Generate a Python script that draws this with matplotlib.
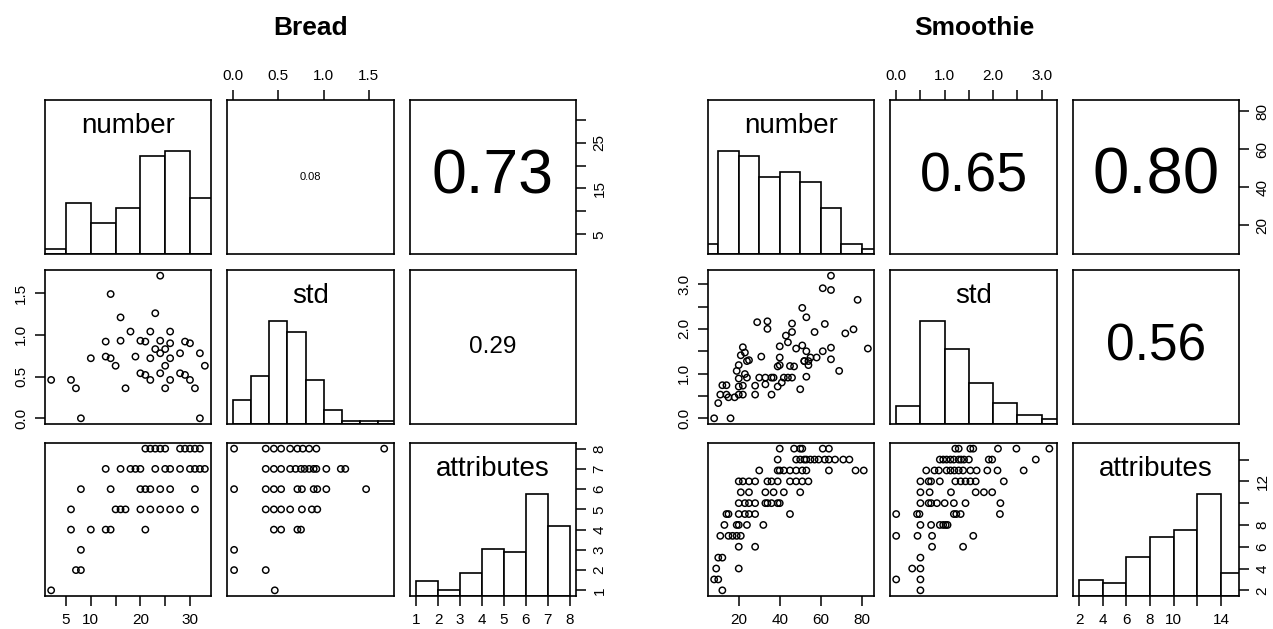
import matplotlib
matplotlib.use("Agg")
import matplotlib.pyplot as plt
import numpy as np

plt.rcParams['font.family'] = ['Liberation Sans', 'DejaVu Sans']

# ---------------- DATA ----------------
variables = ["number", "std", "attributes"]

# Bread
bread_title = "Bread"
bread_num_std_x = [2, 6, 7, 8, 10, 13, 13, 14, 14, 15, 16, 16, 17, 18, 19, 20, 20, 21, 21, 22, 22, 22,
                   23, 23, 24, 24, 24, 24, 25, 25, 25, 26, 26, 26, 26, 28, 28, 29, 29, 30, 30, 31, 32, 32, 33]
bread_num_std_y = [0.46, 0.46, 0.36, 0.00, 0.72, 0.92, 0.74, 0.72, 1.49, 0.63, 1.21, 0.93, 0.36, 1.04, 0.74,
                   0.93, 0.54, 0.92, 0.52, 1.04, 0.72, 0.46, 1.26, 0.83, 1.71, 0.93, 0.78, 0.54, 0.83, 0.63,
                   0.36, 1.04, 0.90, 0.72, 0.46, 0.78, 0.54, 0.92, 0.52, 0.90, 0.46, 0.36, 0.78, 0.00, 0.63]
bread_num_attr_x = [21, 22, 23, 24, 25, 28, 29, 30, 31, 32,
                    13, 16, 18, 19, 20, 23, 25, 26, 28, 30, 31, 32, 33,
                    8, 14, 20, 21, 22, 24, 26, 31,
                    6, 15, 16, 17, 20, 22, 24, 26, 28, 31,
                    6, 10, 13, 14, 21,
                    8,
                    7, 8,
                    2]
bread_num_attr_y = [8, 8, 8, 8, 8, 8, 8, 8, 8, 8,
                    7, 7, 7, 7, 7, 7, 7, 7, 7, 7, 7, 7, 7,
                    6, 6, 6, 6, 6, 6, 6, 6,
                    5, 5, 5, 5, 5, 5, 5, 5, 5, 5,
                    4, 4, 4, 4, 4,
                    3,
                    2, 2,
                    1]
bread_std_attr_x = [0.01, 0.36, 0.45, 0.53, 0.63, 0.71, 0.77, 0.84, 0.92, 1.67,
                    0.36, 0.45, 0.53, 0.63, 0.69, 0.75, 0.79, 0.84, 0.89, 0.92, 1.03, 1.19, 1.24,
                    0.01, 0.36, 0.45, 0.53, 0.71, 0.76, 0.89, 0.93, 1.03, 1.47,
                    0.36, 0.45, 0.53, 0.63, 0.76, 0.87, 0.93,
                    0.45, 0.53, 0.71, 0.75,
                    0.01,
                    0.01, 0.36,
                    0.46]
bread_std_attr_y = [8, 8, 8, 8, 8, 8, 8, 8, 8, 8,
                    7, 7, 7, 7, 7, 7, 7, 7, 7, 7, 7, 7, 7,
                    6, 6, 6, 6, 6, 6, 6, 6, 6, 6,
                    5, 5, 5, 5, 5, 5, 5,
                    4, 4, 4, 4,
                    3,
                    2, 2,
                    1]
bread_hist_number_edges = [0, 5, 10, 15, 20, 25, 30, 35]
bread_hist_number_counts = [1, 10, 6, 9, 19, 20, 11]
bread_hist_std_edges = [0.0, 0.2, 0.4, 0.6, 0.8, 1.0, 1.2, 1.4, 1.6, 1.8]
bread_hist_std_counts = [7, 14, 30, 27, 13, 4, 1, 1, 1]
bread_hist_attr_edges = [1, 2, 3, 4, 5, 6, 7, 8]
bread_hist_attr_counts = [5, 2, 8, 16, 15, 35, 24]
bread_cor_num_std = "0.08"
bread_cor_num_attr = "0.73"
bread_cor_std_attr = "0.29"
bread_number_ticks = [5, 10, 15, 20, 25, 30]
bread_number_labels_bottom = ["5", "10", "", "20", "", "30"]
bread_number_labels_right = ["5", "", "15", "", "25", ""]
bread_std_ticks = [0.0, 0.5, 1.0, 1.5]
bread_std_labels = ["0.0", "0.5", "1.0", "1.5"]
bread_attr_ticks = [1, 2, 3, 4, 5, 6, 7, 8]
bread_attr_labels_bottom = ["1", "2", "3", "4", "5", "6", "7", "8"]
bread_attr_labels_right = ["1", "2", "3", "4", "5", "6", "7", "8"]

# Smoothie
smoothie_title = "Smoothie"
smoothie_num_std_x = [8, 16, 10, 11, 14, 12, 14, 15, 18, 20, 22, 20, 20, 19, 20, 21, 22, 23, 24, 25, 23, 24,
                      22, 28, 28, 29, 34, 34, 31, 30, 33, 36, 33, 37, 36, 39, 41, 42, 40, 40, 39, 40, 43, 44,
                      46, 46, 45, 47, 44, 46, 48, 50, 51, 52, 51, 53, 53, 53, 54, 54, 55, 52, 57, 58, 61, 61,
                      62, 65, 65, 65, 65, 69, 72, 76, 78, 83]
smoothie_num_std_y = [0.00, 0.00, 0.34, 0.53, 0.53, 0.74, 0.74, 0.47, 0.47, 0.53, 0.53, 0.71, 0.89, 1.06,
                      1.19, 1.41, 1.59, 1.47, 1.28, 1.30, 0.99, 0.91, 0.73, 0.73, 0.53, 2.15, 2.17, 2.00,
                      1.38, 0.91, 0.91, 0.91, 0.76, 0.91, 0.53, 0.71, 0.80, 0.91, 1.36, 1.61, 1.16, 1.19,
                      1.85, 1.70, 1.93, 2.12, 1.17, 1.16, 0.91, 0.91, 1.56, 0.65, 1.63, 1.28, 2.47, 2.26,
                      1.50, 0.93, 1.19, 1.28, 1.36, 1.28, 1.93, 1.36, 1.50, 2.91, 2.11, 2.87, 1.32, 1.58,
                      3.19, 1.06, 1.90, 1.99, 2.65, 1.56]
smoothie_num_attr_x = [40, 47, 50, 51, 61, 64,
                       39, 48, 50, 52, 53, 55, 57, 59, 62, 64, 67, 71, 74,
                       30, 39, 40, 42, 45, 48, 51, 53, 64, 77, 81,
                       20, 22, 25, 28, 34, 36, 39, 45, 48, 51, 54,
                       21, 25, 33, 37, 42, 50,
                       20, 23, 25, 28, 33, 34, 36, 39, 40,
                       14, 15, 20, 23, 25, 28, 45,
                       13, 19, 20, 24, 32,
                       11, 15, 17, 19, 21,
                       20, 28,
                       10, 12,
                       9, 20,
                       8, 10,
                       12]
smoothie_num_attr_y = [15, 15, 15, 15, 15, 15,
                       14, 14, 14, 14, 14, 14, 14, 14, 14, 14, 14, 14, 14,
                       13, 13, 13, 13, 13, 13, 13, 13, 13, 13, 13,
                       12, 12, 12, 12, 12, 12, 12, 12, 12, 12, 12,
                       11, 11, 11, 11, 11, 11,
                       10, 10, 10, 10, 10, 10, 10, 10, 10,
                       9, 9, 9, 9, 9, 9, 9,
                       8, 8, 8, 8, 8,
                       7, 7, 7, 7, 7,
                       6, 6,
                       5, 5,
                       4, 4,
                       3, 3,
                       2]
smoothie_std_attr_x = [1.22, 1.29, 1.53, 1.59, 2.10, 2.48, 3.16,
                       0.90, 0.97, 1.04, 1.12, 1.19, 1.29, 1.34, 1.40, 1.50, 1.91, 1.98, 2.88,
                       0.62, 0.79, 0.88, 1.04, 1.12, 1.20, 1.29, 1.38, 1.53, 1.66, 1.88, 2.09, 2.63,
                       0.50, 0.67, 0.72, 0.90, 1.22, 1.33, 1.43, 1.53, 1.64, 2.22,
                       0.50, 0.69, 1.13, 1.64, 1.81, 1.98,
                       0.50, 0.67, 0.72, 0.84, 1.00, 1.19, 1.43, 2.15,
                       0.00, 0.43, 0.48, 1.19, 1.24, 1.33, 2.14,
                       0.50, 0.72, 0.90, 0.97, 1.02, 1.06,
                       0.00, 0.44, 0.74, 1.59,
                       0.74, 1.38,
                       0.50,
                       0.33, 0.50,
                       0.00, 0.50,
                       0.50]
smoothie_std_attr_y = [15, 15, 15, 15, 15, 15, 15,
                       14, 14, 14, 14, 14, 14, 14, 14, 14, 14, 14, 14,
                       13, 13, 13, 13, 13, 13, 13, 13, 13, 13, 13, 13, 13,
                       12, 12, 12, 12, 12, 12, 12, 12, 12, 12,
                       11, 11, 11, 11, 11, 11,
                       10, 10, 10, 10, 10, 10, 10, 10,
                       9, 9, 9, 9, 9, 9, 9,
                       8, 8, 8, 8, 8, 8,
                       7, 7, 7, 7,
                       6, 6,
                       5,
                       4, 4,
                       3, 3,
                       2]
smoothie_hist_number_edges = [0, 10, 20, 30, 40, 50, 60, 70, 80, 90]
smoothie_hist_number_counts = [2, 20, 19, 15, 16, 14, 9, 2, 1]
smoothie_hist_std_edges = [0.0, 0.5, 1.0, 1.5, 2.0, 2.5, 3.0, 3.5]
smoothie_hist_std_counts = [8, 45, 33, 18, 9, 4, 2]
smoothie_hist_attr_edges = [2, 4, 6, 8, 10, 12, 14, 16]
smoothie_hist_attr_counts = [5, 4, 12, 18, 20, 31, 7]
smoothie_cor_num_std = "0.65"
smoothie_cor_num_attr = "0.80"
smoothie_cor_std_attr = "0.56"
smoothie_number_ticks = [20, 40, 60, 80]
smoothie_number_labels_bottom = ["20", "40", "60", "80"]
smoothie_number_labels_right = ["20", "40", "60", "80"]
smoothie_std_ticks = [0.0, 0.5, 1.0, 1.5, 2.0, 2.5, 3.0]
smoothie_std_labels = ["0.0", "", "1.0", "", "2.0", "", "3.0"]
smoothie_attr_ticks = [2, 4, 6, 8, 10, 12, 14]
smoothie_attr_labels_bottom = ["2", "4", "6", "8", "10", "", "14"]
smoothie_attr_labels_right = ["2", "4", "6", "8", "", "12", ""]

# ---------------- LAYOUT / STYLE ----------------
W, H = 1273, 629
fig = plt.figure(figsize=(W / 100, H / 100), dpi=100)
fig.patch.set_facecolor("white")

ROWS = [(100, 254), (270, 424), (443, 596)]
BREAD_COLS = [(45, 211), (227, 394), (410, 576)]
SMOOTHIE_COLS = [(708, 874), (890, 1057), (1073, 1239)]
BREAD_COR_SIZES = [8, 45, 17.5]
SMOOTHIE_COR_SIZES = [40, 47, 37]
TICK_FS = 11
LABEL_FS = 20
LW = 1.2


def add_ax(cols, r, c):
    x0, x1 = cols[c]
    y0, y1 = ROWS[r]
    ax = fig.add_axes([x0 / W, 1 - y1 / H, (x1 - x0) / W, (y1 - y0) / H])
    ax.set_xticks([])
    ax.set_yticks([])
    for s in ax.spines.values():
        s.set_linewidth(LW)
        s.set_color("black")
        s.set_zorder(5)
    ax.tick_params(length=7, width=1.1, pad=5, labelsize=TICK_FS, colors="black")
    return ax


def lim(*arrays):
    vals = np.concatenate([np.asarray(a, float) for a in arrays])
    lo, hi = vals.min(), vals.max()
    pad = 0.04 * (hi - lo)
    return lo - pad, hi + pad


def draw_block(cols, title, title_x, d, cor_sizes):
    num_lim = lim(d["ns_x"], d["na_x"])
    std_lim = lim(d["ns_y"], d["sa_x"])
    attr_lim = lim(d["na_y"], d["sa_y"])
    lims = [num_lim, std_lim, attr_lim]
    hists = [d["h_num"], d["h_std"], d["h_attr"]]
    axes = {}
    for r in range(3):
        for c in range(3):
            ax = add_ax(cols, r, c)
            ax.set_xlim(*lims[c])
            if r == c:
                ax.set_ylim(0, 1.5)
                edges, counts = hists[r]
                edges = np.asarray(edges, float)
                counts = np.asarray(counts, float)
                ax.bar(edges[:-1], counts / counts.max(), width=np.diff(edges), align="edge",
                       facecolor="white", edgecolor="black", linewidth=LW, zorder=2)
                ax.text(0.5, 0.833, variables[r], transform=ax.transAxes, ha="center",
                        va="center", fontsize=LABEL_FS, color="black", zorder=6)
            else:
                ax.set_ylim(*lims[r])
            axes[(r, c)] = ax

    # scatter panels
    sc = dict(s=21, facecolors="none", edgecolors="black", linewidths=1.05, zorder=3, clip_on=True)
    axes[(1, 0)].scatter(d["ns_x"], d["ns_y"], **sc)
    axes[(2, 0)].scatter(d["na_x"], d["na_y"], **sc)
    axes[(2, 1)].scatter(d["sa_x"], d["sa_y"], **sc)

    # correlation panels
    for (r, c), txt, fs in zip([(0, 1), (0, 2), (1, 2)], d["cors"], cor_sizes):
        axes[(r, c)].text(0.5, 0.5, txt, transform=axes[(r, c)].transAxes, ha="center",
                          va="center", fontsize=fs, color="black")

    # bottom axes: col 0 (number) and col 2 (attributes)
    ax = axes[(2, 0)]
    ax.set_xticks(d["num_ticks"])
    ax.set_xticklabels(d["num_lab_b"])
    ax = axes[(2, 2)]
    ax.set_xticks(d["attr_ticks"])
    ax.set_xticklabels(d["attr_lab_b"])
    # top axis: col 1 (std)
    ax = axes[(0, 1)]
    ax.xaxis.set_ticks_position("top")
    ax.set_xticks(d["std_ticks"])
    ax.set_xticklabels(d["std_lab"])
    # left axis: row 1 (std)
    ax = axes[(1, 0)]
    ax.set_yticks(d["std_ticks"])
    ax.set_yticklabels(d["std_lab"], rotation=90, va="center")
    # right axis: row 0 (number)
    ax = axes[(0, 2)]
    ax.yaxis.set_ticks_position("right")
    ax.set_yticks(d["num_ticks"])
    ax.set_yticklabels(d["num_lab_r"], rotation=90, va="center")
    # right axis: row 2 (attributes), twin over the histogram
    ax = axes[(2, 2)]
    tw = ax.twinx()
    tw.set_ylim(*attr_lim)
    for s in tw.spines.values():
        s.set_visible(False)
    tw.tick_params(length=7, width=1.1, pad=5, labelsize=TICK_FS, colors="black")
    tw.set_yticks(d["attr_ticks"])
    tw.set_yticklabels(d["attr_lab_r"], rotation=90, va="center")

    fig.text(title_x / W, 1 - 28 / H, title, ha="center", va="center", fontsize=19,
             fontweight="bold", color="black")


draw_block(BREAD_COLS, bread_title, 311, dict(
    ns_x=bread_num_std_x, ns_y=bread_num_std_y,
    na_x=bread_num_attr_x, na_y=bread_num_attr_y,
    sa_x=bread_std_attr_x, sa_y=bread_std_attr_y,
    h_num=(bread_hist_number_edges, bread_hist_number_counts),
    h_std=(bread_hist_std_edges, bread_hist_std_counts),
    h_attr=(bread_hist_attr_edges, bread_hist_attr_counts),
    cors=[bread_cor_num_std, bread_cor_num_attr, bread_cor_std_attr],
    num_ticks=bread_number_ticks, num_lab_b=bread_number_labels_bottom,
    num_lab_r=bread_number_labels_right,
    std_ticks=bread_std_ticks, std_lab=bread_std_labels,
    attr_ticks=bread_attr_ticks, attr_lab_b=bread_attr_labels_bottom,
    attr_lab_r=bread_attr_labels_right), BREAD_COR_SIZES)

draw_block(SMOOTHIE_COLS, smoothie_title, 974, dict(
    ns_x=smoothie_num_std_x, ns_y=smoothie_num_std_y,
    na_x=smoothie_num_attr_x, na_y=smoothie_num_attr_y,
    sa_x=smoothie_std_attr_x, sa_y=smoothie_std_attr_y,
    h_num=(smoothie_hist_number_edges, smoothie_hist_number_counts),
    h_std=(smoothie_hist_std_edges, smoothie_hist_std_counts),
    h_attr=(smoothie_hist_attr_edges, smoothie_hist_attr_counts),
    cors=[smoothie_cor_num_std, smoothie_cor_num_attr, smoothie_cor_std_attr],
    num_ticks=smoothie_number_ticks, num_lab_b=smoothie_number_labels_bottom,
    num_lab_r=smoothie_number_labels_right,
    std_ticks=smoothie_std_ticks, std_lab=smoothie_std_labels,
    attr_ticks=smoothie_attr_ticks, attr_lab_b=smoothie_attr_labels_bottom,
    attr_lab_r=smoothie_attr_labels_right), SMOOTHIE_COR_SIZES)

fig.savefig("out.png", dpi=100, facecolor="white")
